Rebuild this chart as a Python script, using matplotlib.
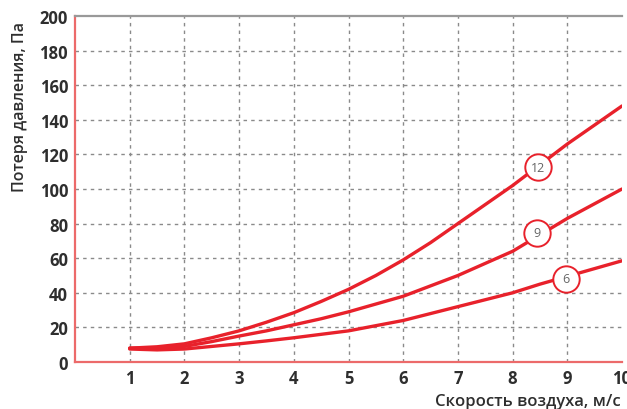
import matplotlib
matplotlib.use("Agg")
import matplotlib.pyplot as plt

# Data
speed = [1, 1.5, 2, 2.5, 3, 3.5, 4, 4.5, 5, 5.5, 6, 6.5, 7, 7.5, 8, 8.5, 9, 9.5, 10]
loss_12 = [8, 8.8, 10.5, 14, 18, 23, 28.5, 35, 42, 50, 59, 69, 80, 91, 102, 114, 126, 137, 148]
loss_9 = [8, 8.2, 9, 11.8, 15, 18, 21.5, 25, 29, 33.5, 38, 44, 50, 57, 64, 73.5, 83, 91.5, 100]
loss_6 = [7.5, 7, 7.5, 9, 10.5, 12.2, 14, 16, 18, 21, 24, 28, 32, 36, 40, 45, 49.5, 54, 58.5]
series_names = ["12", "9", "6"]
label_pos = [(8.46, 112.5), (8.44, 74.6), (8.98, 48)]
x_ticks = [1, 2, 3, 4, 5, 6, 7, 8, 9, 10]
y_ticks = [0, 20, 40, 60, 80, 100, 120, 140, 160, 180, 200]

RED = "#e8212b"
plt.rcParams['font.family'] = ['Open Sans', 'DejaVu Sans']

fig = plt.figure(figsize=(6.27, 4.10), dpi=100)
ax = fig.add_axes([75/627, 1-363/410, (622-75)/627, (363-17)/410])
ax.set_xlim(0, 10)
ax.set_ylim(0, 200)

# grid
for xv in range(1, 10):
    ax.axvline(xv, color="#8a8a8a", lw=1.0, ls=(0, (2.5, 3)), zorder=1)
for yv in range(20, 200, 20):
    ax.axhline(yv, color="#8a8a8a", lw=1.0, ls=(0, (2.5, 3)), zorder=1)

for ys in (loss_12, loss_9, loss_6):
    ax.plot(speed, ys, color=RED, lw=2.4, solid_capstyle='round', zorder=3)

for name, (lx, ly) in zip(series_names, label_pos):
    ax.plot([lx], [ly], marker='o', ms=19, mfc='white', mec=RED, mew=1.4, zorder=4)
    ax.text(lx, ly, name, ha='center', va='center', fontsize=9, color='#666666', zorder=5)

ax.set_xticks(x_ticks)
ax.set_yticks(y_ticks)
ax.tick_params(length=0, labelsize=12, labelcolor='#2e2e2e', pad=5)
for lab in ax.get_xticklabels() + ax.get_yticklabels():
    lab.set_fontweight('bold')

ax.spines['right'].set_visible(False)
ax.spines['top'].set_color('#999999')
ax.spines['top'].set_linewidth(1.6)
ax.spines['left'].set_color('#ec6a6a')
ax.spines['left'].set_linewidth(1.6)
ax.spines['bottom'].set_color('#ec6a6a')
ax.spines['bottom'].set_linewidth(1.6)

fig.text(20/627, 1-107/410, "Потеря давления, Па", rotation=90, ha='center', va='center',
         fontsize=11.5, fontweight='semibold', color='#2e2e2e')
fig.text(435/627, 1-402/410, "Скорость воздуха, м/с", ha='left', va='center',
         fontsize=12, fontweight='semibold', color='#2e2e2e')

fig.savefig("out.png", dpi=100)
